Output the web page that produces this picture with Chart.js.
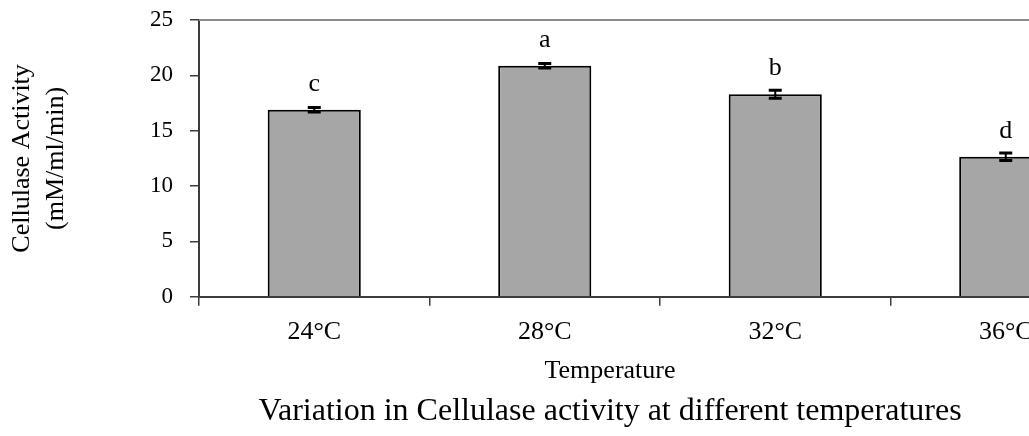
<!DOCTYPE html>
<html>
<head>
<meta charset="utf-8">
<script src="https://cdn.jsdelivr.net/npm/chart.js@4"></script>
<style>
html, body { margin: 0; padding: 0; overflow: hidden; background: #ffffff; }
#wrap { position: relative; width: 1220px; height: 436px; }
</style>
</head>
<body>
<div id="wrap"><canvas id="c"></canvas></div>
<script>
const categories = ['24°C', '28°C', '32°C', '36°C'];
const activity = [16.9, 20.87, 18.3, 12.65];
const errors = [0.2, 0.2, 0.36, 0.33];
const letters = ['c', 'a', 'b', 'd'];
const yTicks = [0, 5, 10, 15, 20, 25];
const yTitle = ['Cellulase Activity', '(mM/ml/min)'];
const xTitle = 'Temperature';
const chartTitle = 'Variation in Cellulase activity at different temperatures';

const SERIF = '"Liberation Serif", "Times New Roman", serif';
const AXIS = '#3c3c3c';
const X_TICK_FONT = 26;

const plotFrame = {
  id: 'plotFrame',
  beforeDatasetsDraw(chart) {
    const { ctx, chartArea: a } = chart;
    ctx.save();
    ctx.strokeStyle = '#8c8c8c';
    ctx.lineWidth = 2;
    ctx.beginPath();
    ctx.moveTo(a.left, a.top);
    ctx.lineTo(a.right, a.top);
    ctx.lineTo(a.right, a.bottom);
    ctx.stroke();
    ctx.restore();
  }
};

const errorBars = {
  id: 'errorBars',
  afterDatasetsDraw(chart) {
    const ctx = chart.ctx;
    const y = chart.scales.y;
    const meta = chart.getDatasetMeta(0);
    ctx.save();
    ctx.strokeStyle = '#000';
    meta.data.forEach((bar, i) => {
      const v = activity[i], e = errors[i];
      const yt = y.getPixelForValue(v + e);
      const yb = y.getPixelForValue(v - e);
      const x = bar.x, w = 6.5;
      ctx.lineWidth = 2;
      ctx.beginPath();
      ctx.moveTo(x, yt); ctx.lineTo(x, yb);
      ctx.stroke();
      ctx.lineWidth = 3;
      ctx.beginPath();
      ctx.moveTo(x - w, yt); ctx.lineTo(x + w, yt);
      ctx.moveTo(x - w, yb); ctx.lineTo(x + w, yb);
      ctx.stroke();
    });
    ctx.fillStyle = '#000';
    ctx.font = '26px ' + SERIF;
    ctx.textAlign = 'center';
    ctx.textBaseline = 'alphabetic';
    meta.data.forEach((bar, i) => {
      ctx.fillText(letters[i], bar.x, y.getPixelForValue(activity[i]) - 19);
    });
    ctx.restore();
  }
};

new Chart(document.getElementById('c'), {
  type: 'bar',
  data: {
    labels: categories,
    datasets: [{
      label: 'Cellulase Activity',
      data: activity,
      backgroundColor: '#a6a6a6',
      borderColor: '#000000',
      borderWidth: 2,
      barPercentage: 0.404,
      categoryPercentage: 1.0
    }]
  },
  options: {
    responsive: true,
    maintainAspectRatio: false,
    animation: false,
    devicePixelRatio: 1,
    layout: { padding: { top: 20, right: 0, bottom: 0, left: 0 } },
    plugins: {
      legend: { display: false },
      tooltip: { enabled: false },
      subtitle: {
        display: true,
        position: 'bottom',
        text: xTitle,
        color: '#000',
        font: { family: SERIF, size: 26, lineHeight: 1 },
        padding: { top: 10, bottom: 0 }
      },
      title: {
        display: true,
        position: 'bottom',
        text: chartTitle,
        color: '#000',
        font: { family: SERIF, size: 32, weight: 'normal', lineHeight: 1 },
        padding: { top: 12, bottom: 8 }
      }
    },
    scales: {
      x: {
        offset: true,
        afterFit(scale) { scale.height = 9 + 11 + X_TICK_FONT * 1.2; },
        grid: { offset: true, drawOnChartArea: false, drawTicks: true, tickLength: 9, color: AXIS, lineWidth: 1.5 },
        border: { display: true, color: AXIS, width: 2 },
        ticks: { color: '#000', font: { family: SERIF, size: X_TICK_FONT }, padding: 11, maxRotation: 0, autoSkip: false }
      },
      y: {
        min: 0,
        max: 25,
        afterBuildTicks(scale) { scale.ticks = yTicks.map(v => ({ value: v })); },
        afterFit(scale) { scale.width = 199; scale.paddingTop = 0; scale.paddingBottom = 0; },
        grid: { drawOnChartArea: false, drawTicks: true, tickLength: 9, color: AXIS, lineWidth: 1.5 },
        border: { display: true, color: AXIS, width: 2 },
        ticks: { color: '#000', font: { family: SERIF, size: 23 }, padding: 17 },
        title: {
          display: true,
          text: yTitle,
          color: '#000',
          font: { family: SERIF, size: 26, lineHeight: 1.3 },
          padding: { top: 5, bottom: 0 }
        }
      },
      yRight: {
        position: 'right',
        min: 0,
        max: 25,
        afterFit(scale) { scale.width = 99; scale.paddingTop = 0; scale.paddingBottom = 0; },
        grid: { display: false, drawTicks: false },
        border: { display: false },
        ticks: { display: false }
      }
    }
  },
  plugins: [plotFrame, errorBars]
});
</script>
</body>
</html>
